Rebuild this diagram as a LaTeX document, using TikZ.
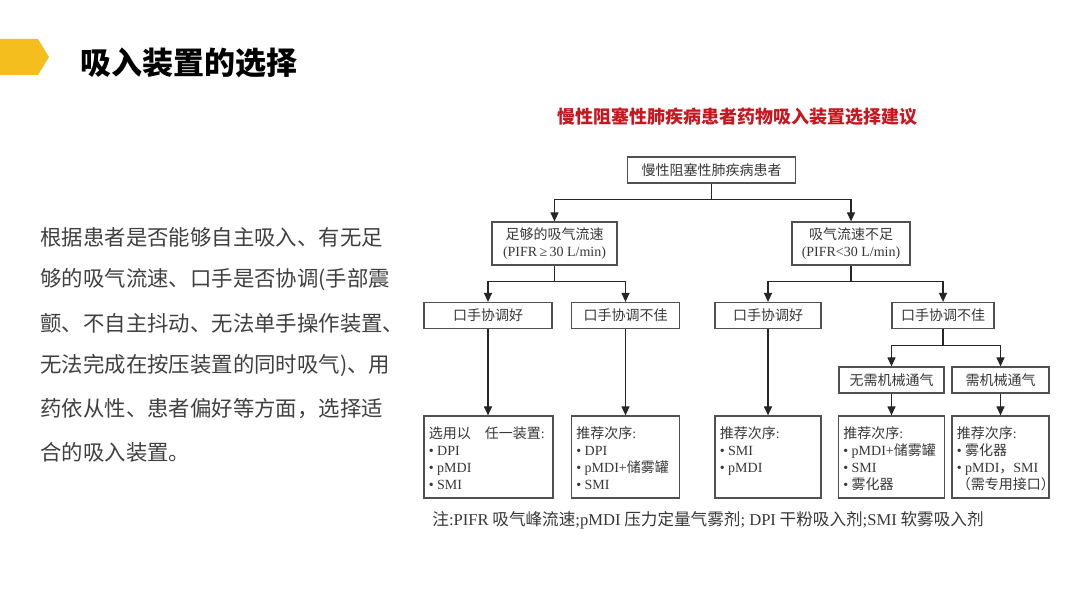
\documentclass[tikz,border=0pt]{standalone}
\usepackage{fontspec}
\setmainfont{Liberation Serif}
\newfontfamily\zh{Noto Sans CJK SC}
\usetikzlibrary{arrows.meta,positioning,calc}
\definecolor{tabcol}{RGB}{244,190,30}
\definecolor{redcol}{RGB}{200,22,30}
\definecolor{boxcol}{RGB}{80,80,80}
\definecolor{txtcol}{RGB}{55,55,55}
\definecolor{paracol}{RGB}{64,64,64}
\newcommand{\en}[1]{{\rmfamily #1}}
\tikzset{
  % flowchart box
  fbox/.style={rectangle, draw=boxcol, line width=0.6pt, text=txtcol,
               font=\zh\fontsize{7}{8.5}\selectfont, align=center, inner sep=0pt,
               minimum width=#1, minimum height=13pt},
  % two-line box
  fbox2/.style={fbox=#1, minimum height=21.5pt},
  % recommendation frame
  recbox/.style={fbox=#1, minimum height=41pt},
  % list inside a frame
  reclist/.style={anchor=north west, inner sep=0pt, align=left, text=txtcol,
                  font=\zh\fontsize{7}{8.5}\selectfont},
  % connector with arrow
  conn/.style={draw=black!85, line width=0.6pt, -{Triangle[length=4.5pt,width=4pt]}},
  % paragraph line
  para/.style={anchor=west, inner sep=0pt, text=paracol, font=\zh\fontsize{10.7}{12}\selectfont},
}
\begin{document}
\begin{tikzpicture}[x=0.5pt, y=-0.5pt]
  \useasboundingbox (0,0) rectangle (1080,608);
  % header
  \fill[tabcol] (0,39) -- (38,39) -- (49,57) -- (38,75) -- (0,75) -- cycle;
  \node[anchor=west, inner sep=0pt, font=\zh\bfseries\fontsize{15.5}{16}\selectfont] (head) at (80,63) {吸入装置的选择};
  % paragraph
  \foreach \txt [count=\i] in {{根据患者是否能够自主吸入、有无足},{够的吸气流速、口手是否协调(手部震},
      {颤、不自主抖动、无法单手操作装置、},{无法完成在按压装置的同时吸气)、用},
      {药依从性、患者偏好等方面，选择适},{合的吸入装置。}}
    \node[para] (p\i) at (40,194+43*\i) {\txt};
  % chart title
  \node[inner sep=0pt, text=redcol, font=\zh\bfseries\fontsize{9}{10}\selectfont] (ctitle) at (737,117) {慢性阻塞性肺疾病患者药物吸入装置选择建议};
  % level 1 and 2
  \node[fbox=84pt] (top) at (711.5,170) {慢性阻塞性肺疾病患者};
  \node[fbox2=62.5pt] (l2a) at (554.5,243.5) {足够的吸气流速\\\en{(PIFR\,≥\,30 L/min)}};
  \node[fbox2=59pt] (l2b) at (851,243.5) {吸气流速不足\\\en{(PIFR<30 L/min)}};
  % level 3
  \node[fbox=64pt] (l3a) at (488,315.5) {口手协调好};
  \node[fbox=54pt] (l3b) at (625.5,315.5) {口手协调不佳};
  \node[fbox=53pt] (l3c) at (768,315.5) {口手协调好};
  \node[fbox=51pt] (l3d) at (943,315.5) {口手协调不佳};
  % level 4
  \node[fbox=52.5pt] (l4a) at (891.5,380) {无需机械通气};
  \node[fbox=48.5pt] (l4b) at (1000.5,380) {需机械通气};
  % level 5
  \node[recbox=64.5pt] (l5a) at (488.5,457) {};
  \node[recbox=54pt] (l5b) at (625.5,457) {};
  \node[recbox=53pt] (l5c) at (768,457) {};
  \node[recbox=53pt] (l5d) at (891.5,457) {};
  \node[recbox=48.5pt] (l5e) at (1000.5,457) {};
  \node[reclist] (l5at) at ([shift={(5,11)}]l5a.north west) {选用以\hspace{1em}任一装置\en{:}\\\en{• DPI}\\\en{• pMDI}\\\en{• SMI}};
  \node[reclist] (l5bt) at ([shift={(5,11)}]l5b.north west) {推荐次序\en{:}\\\en{• DPI}\\\en{• pMDI+}储雾罐\\\en{• SMI}};
  \node[reclist] (l5ct) at ([shift={(5,11)}]l5c.north west) {推荐次序\en{:}\\\en{• SMI}\\\en{• pMDI}};
  \node[reclist] (l5dt) at ([shift={(5,11)}]l5d.north west) {推荐次序\en{:}\\\en{• pMDI+}储雾罐\\\en{• SMI}\\\en{• }雾化器};
  \node[reclist] (l5et) at ([shift={(5,11)}]l5e.north west) {推荐次序\en{:}\\\en{• }雾化器\\\en{• pMDI}，\en{SMI}\\（需专用接口）};
  % footnote
  \node[inner sep=0pt, text=txtcol, font=\zh\fontsize{8.3}{9}\selectfont] (note) at (708,520)
    {注\en{:PIFR} 吸气峰流速\en{;pMDI} 压力定量气雾剂\en{; DPI} 干粉吸入剂\en{;SMI} 软雾吸入剂};
  % connectors
  \draw[conn] (top.south) -- ++(0,16) -| (l2a.north);
  \draw[conn] (top.south) -- ++(0,16) -| (l2b.north);
  \draw[conn] (l2a.south) -- ++(0,16) -| (l3a.north);
  \draw[conn] (l2a.south) -- ++(0,16) -| (l3b.north);
  \draw[conn] (l2b.south) -- ++(0,16) -| (l3c.north);
  \draw[conn] (l2b.south) -- ++(0,16) -| (l3d.north);
  \draw[conn] (l3d.south) -- ++(0,16.5) -| (l4a.north);
  \draw[conn] (l3d.south) -- ++(0,16.5) -| (l4b.north);
  \draw[conn] (l3a.south) -- (l3a.south |- l5a.north);
  \draw[conn] (l3b.south) -- (l3b.south |- l5b.north);
  \draw[conn] (l3c.south) -- (l3c.south |- l5c.north);
  \draw[conn] (l4a.south) -- (l4a.south |- l5d.north);
  \draw[conn] (l4b.south) -- (l4b.south |- l5e.north);
\end{tikzpicture}
\end{document}
